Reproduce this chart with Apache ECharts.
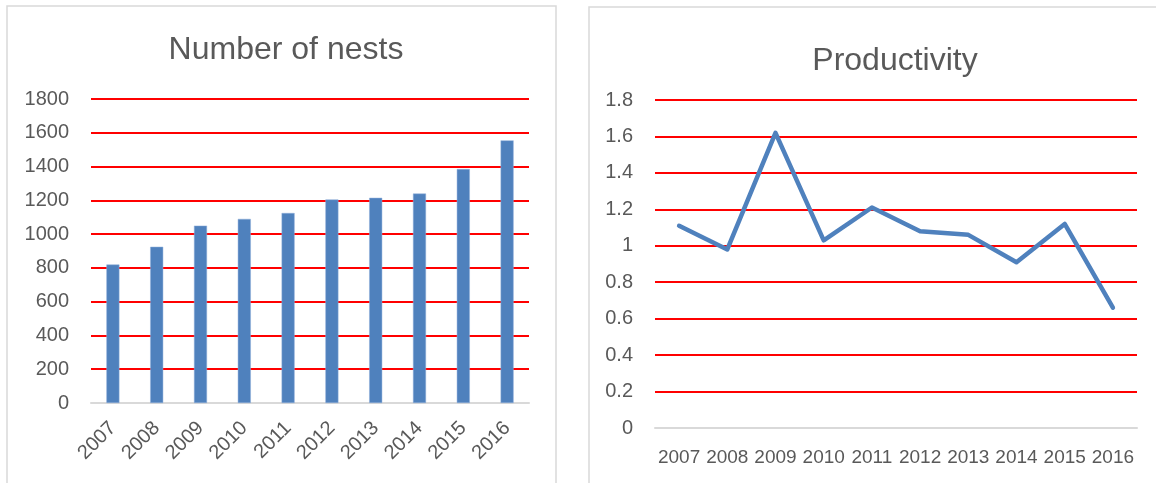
<!DOCTYPE html>
<html>
<head>
<meta charset="utf-8">
<script src="https://cdn.jsdelivr.net/npm/echarts@6/dist/echarts.min.js"></script>
<style>
html,body{margin:0;padding:0;background:#fff;}
#chart{width:1156px;height:483px;}
</style>
</head>
<body>
<div id="chart"></div>
<script>
const years = ['2007','2008','2009','2010','2011','2012','2013','2014','2015','2016'];
const nests = [820, 925, 1050, 1090, 1125, 1205, 1215, 1240, 1385, 1555];
const productivity = [1.11, 0.98, 1.62, 1.03, 1.21, 1.08, 1.06, 0.91, 1.12, 0.66];
const titleNests = 'Number of nests';
const titleProd = 'Productivity';

const FONT = '"Liberation Sans", Arial, sans-serif';
const GRAY = '#595959';
const BLUE = '#4f81bd';

const chart = echarts.init(document.getElementById('chart'), null, {renderer: 'canvas'});
chart.setOption({
  animation: false,
  backgroundColor: '#ffffff',
  textStyle: {fontFamily: FONT},
  graphic: [
    {type: 'rect', shape: {x: 7, y: 6, width: 549, height: 500}, style: {fill: 'none', stroke: '#d9d9d9', lineWidth: 1.5}, z: -1},
    {type: 'rect', shape: {x: 589, y: 7, width: 620, height: 500}, style: {fill: 'none', stroke: '#d9d9d9', lineWidth: 1.5}, z: -1}
  ],
  title: [
    {text: titleNests, left: 281, top: 29, textAlign: 'center', textStyle: {fontFamily: FONT, fontSize: 32, fontWeight: 'normal', color: GRAY}},
    {text: titleProd, left: 890, top: 40, textAlign: 'center', textStyle: {fontFamily: FONT, fontSize: 32, fontWeight: 'normal', color: GRAY}}
  ],
  grid: [
    {left: 91, top: 99, width: 438, height: 304, containLabel: false},
    {left: 655, top: 100, width: 482, height: 328, containLabel: false}
  ],
  xAxis: [
    {type: 'category', gridIndex: 0, data: years, boundaryGap: true,
     axisLine: {lineStyle: {color: '#d9d9d9', width: 2}}, axisTick: {show: false},
     axisLabel: {rotate: 45, interval: 0, margin: 22, color: GRAY, fontSize: 20, fontFamily: FONT}},
    {type: 'category', gridIndex: 1, data: years, boundaryGap: true,
     axisLine: {lineStyle: {color: '#d9d9d9', width: 2}}, axisTick: {show: false},
     axisLabel: {interval: 0, margin: 20, color: GRAY, fontSize: 19, fontFamily: FONT}}
  ],
  yAxis: [
    {type: 'value', gridIndex: 0, min: 0, max: 1800, interval: 200,
     axisLine: {show: false}, axisTick: {show: false},
     axisLabel: {margin: 22, color: GRAY, fontSize: 20, fontFamily: FONT, formatter: function (v) { return String(v); }},
     splitLine: {show: true, showMinLine: false, lineStyle: {color: '#ff0000', width: 2}}},
    {type: 'value', gridIndex: 1, min: 0, max: 1.8, interval: 0.2,
     axisLine: {show: false}, axisTick: {show: false},
     axisLabel: {margin: 22, color: GRAY, fontSize: 20, fontFamily: FONT, formatter: function (v) { return String(Math.round(v * 10) / 10); }},
     splitLine: {show: true, showMinLine: false, lineStyle: {color: '#ff0000', width: 2}}}
  ],
  series: [
    {type: 'bar', xAxisIndex: 0, yAxisIndex: 0, data: nests, barWidth: 13,
     itemStyle: {color: BLUE, borderColor: '#8eaedb', borderWidth: 0.5}},
    {type: 'line', xAxisIndex: 1, yAxisIndex: 1, data: productivity, symbol: 'none',
     lineStyle: {color: BLUE, width: 4.5, cap: 'round', join: 'round'}}
  ]
});
</script>
</body>
</html>
